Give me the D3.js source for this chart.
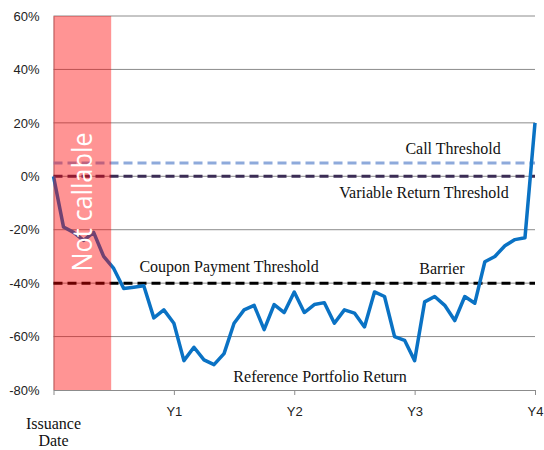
<!DOCTYPE html>
<html>
<head>
<meta charset="utf-8">
<script src="https://cdn.jsdelivr.net/npm/d3@7"></script>
<style>
  body { margin: 0; background: #fff; }
  svg { display: block; }
</style>
</head>
<body>
<svg id="chart" width="544" height="450"></svg>
<script>
// reference portfolio return, one value per month from issuance (%)
const months = d3.range(0, 49);
const portfolioReturn = [
  0, -19, -21, -24, -21, -30, -34.5, -42, -41.5, -41,
  -53, -50, -55, -69, -64, -68.7, -70.5, -66.4, -55, -50,
  -48.3, -57.4, -48, -51, -43.3, -51, -48, -47.3, -55, -50,
  -51.2, -56.4, -43.3, -45, -60, -61.4, -69, -47, -45, -48.3,
  -54, -45, -47.5, -32, -30, -26, -23.7, -23, 20
];
const yTicks = [60, 40, 20, 0, -20, -40, -60, -80];
const yearTicks = [12, 24, 36, 48];
const yearLabels = ["Y1", "Y2", "Y3", "Y4"];
const notCallable = [0, 5.75]; // months
const thresholds = [
  { name: "Call Threshold", value: 5 },
  { name: "Variable Return Threshold", value: 0 },
  { name: "Barrier", value: -40 }
];

const svg = d3.select("#chart");
const x = d3.scaleLinear().domain([0, 48]).range([53.5, 535]);
const y = d3.scaleLinear().domain([-80, 60]).range([390, 16]);

// gridlines
svg.append("g")
  .selectAll("line")
  .data(yTicks.filter(d => d !== -80))
  .enter().append("line")
  .attr("x1", x(0)).attr("x2", x(48))
  .attr("y1", d => y(d)).attr("y2", d => y(d))
  .attr("stroke", "#8c8c8c").attr("stroke-width", 1);

// y axis
const yAxis = svg.append("g")
  .attr("transform", "translate(" + x(0) + ",0)")
  .call(d3.axisLeft(y).tickValues(yTicks).tickSize(0).tickPadding(14)
    .tickFormat(d => d + "%"));
yAxis.select(".domain").attr("stroke", "#8c8c8c");
yAxis.selectAll("text")
  .attr("font-family", "'Liberation Sans', Arial, sans-serif")
  .attr("font-size", 13).attr("fill", "#222");

// x axis
const xAxis = svg.append("g")
  .attr("transform", "translate(0," + y(-80) + ")")
  .call(d3.axisBottom(x).tickValues([0].concat(yearTicks)).tickSizeInner(5).tickSizeOuter(0)
    .tickPadding(12).tickFormat(d => d === 0 ? "" : yearLabels[yearTicks.indexOf(d)]));
xAxis.select(".domain").attr("stroke", "#8c8c8c");
xAxis.selectAll(".tick line").attr("stroke", "#8c8c8c");
xAxis.selectAll("text")
  .attr("font-family", "'Liberation Sans', Arial, sans-serif")
  .attr("font-size", 13).attr("fill", "#222");

// issuance date label
const issue = svg.append("text")
  .attr("x", x(0)).attr("y", 429)
  .attr("text-anchor", "middle")
  .attr("font-family", "'Liberation Serif', 'Times New Roman', serif")
  .attr("font-size", 16).attr("fill", "#111");
issue.append("tspan").attr("x", x(0)).text("Issuance");
issue.append("tspan").attr("x", x(0)).attr("dy", 17).text("Date");

// threshold lines
svg.append("line")
  .attr("x1", x(0)).attr("x2", x(48))
  .attr("y1", y(thresholds[0].value)).attr("y2", y(thresholds[0].value))
  .attr("stroke", "#8eaadb").attr("stroke-width", 3).attr("stroke-dasharray", "9,5");
svg.append("line")
  .attr("x1", x(0)).attr("x2", x(48))
  .attr("y1", y(thresholds[1].value)).attr("y2", y(thresholds[1].value))
  .attr("stroke", "#3b2d55").attr("stroke-width", 3).attr("stroke-dasharray", "9,5");
svg.append("line")
  .attr("x1", x(0)).attr("x2", x(48))
  .attr("y1", y(thresholds[2].value)).attr("y2", y(thresholds[2].value))
  .attr("stroke", "#000").attr("stroke-width", 3).attr("stroke-dasharray", "9,5");

// portfolio line
const line = d3.line()
  .x((d, i) => x(months[i]))
  .y(d => y(d));
svg.append("path")
  .datum(portfolioReturn)
  .attr("d", line)
  .attr("fill", "none")
  .attr("stroke", "#0a72c4")
  .attr("stroke-width", 3.5)
  .attr("stroke-linejoin", "round");

// not callable band on top
svg.append("rect")
  .attr("x", x(notCallable[0])).attr("width", x(notCallable[1]) - x(notCallable[0]))
  .attr("y", y(60)).attr("height", y(-80) - y(60))
  .attr("fill", "#ff0000").attr("fill-opacity", 0.42);

svg.append("text")
  .attr("transform", "translate(" + (x(notCallable[1] / 2) + 10) + "," + 202 + ") rotate(-90)")
  .attr("text-anchor", "middle")
  .attr("font-family", "'Open Sans', 'Liberation Sans', sans-serif")
  .attr("font-size", 28)
  .attr("textLength", 139)
  .attr("lengthAdjust", "spacingAndGlyphs")
  .attr("fill", "#fff")
  .text("Not callable");

// annotations
const serif = "'Liberation Serif', 'Times New Roman', serif";
const notes = [
  { text: "Call Threshold", x: 453, y: 154 },
  { text: "Variable Return Threshold", x: 424, y: 198 },
  { text: "Coupon Payment Threshold", x: 229, y: 272 },
  { text: "Barrier", x: 442, y: 274 },
  { text: "Reference Portfolio Return", x: 320, y: 382 }
];
svg.append("g")
  .selectAll("text")
  .data(notes)
  .enter().append("text")
  .attr("x", d => d.x).attr("y", d => d.y)
  .attr("text-anchor", "middle")
  .attr("font-family", serif)
  .attr("font-size", 16)
  .attr("fill", "#111")
  .text(d => d.text);
</script>
</body>
</html>
